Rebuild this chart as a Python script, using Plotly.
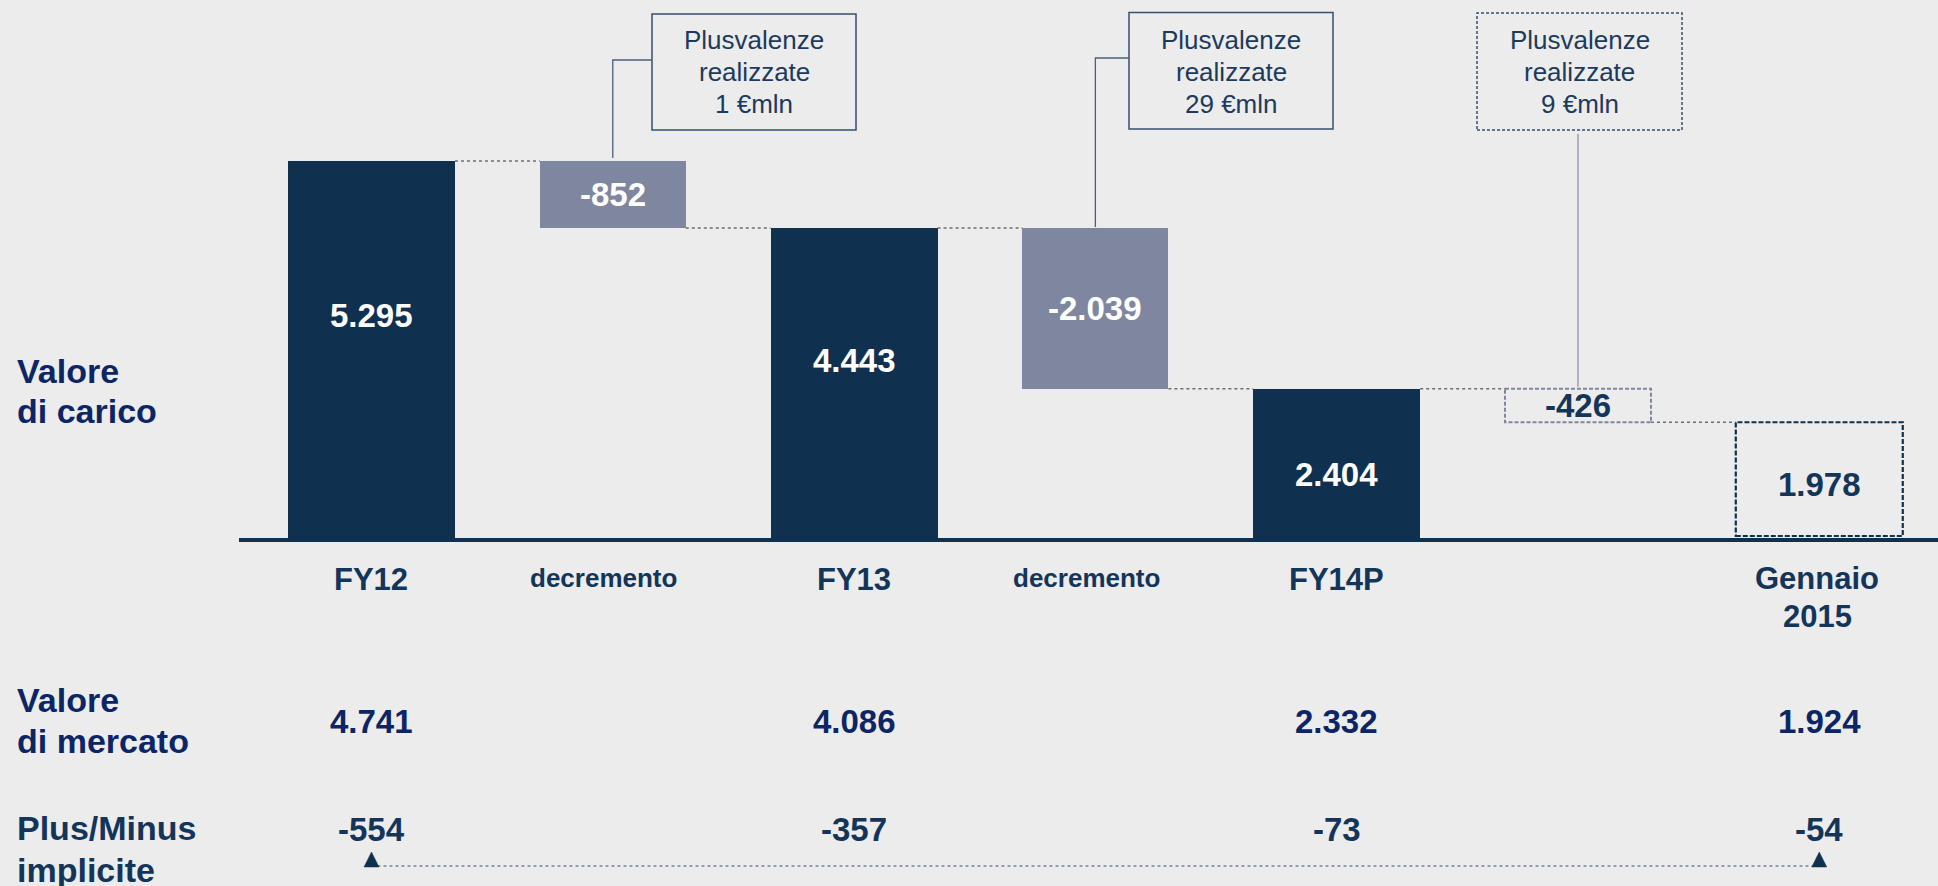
import plotly.graph_objects as go

# ---------------- data ----------------
steps = ["FY12", "decremento", "FY13", "decremento", "FY14P", "", "Gennaio 2015"]
total_names = ["FY12", "FY13", "FY14P", "Gennaio<br>2015"]
valore_carico = [5295, 4443, 2404, 1978]        # FY12, FY13, FY14P, Gennaio 2015
decrementi = [-852, -2039, -426]
plusvalenze_realizzate = [1, 29, 9]             # €mln
valore_mercato = [4741, 4086, 2332, 1924]
plus_minus_implicite = [-554, -357, -73, -54]

total_pos = [0, 2, 4, 6]
dec_pos = [1, 3, 5]


def it(v):
    return f"{v:,}".replace(",", ".")


# ---------------- style ----------------
W, H = 1938, 886
L, R, T, B = 239, 0, 0, 346
PW, PH = W - L - R, H - T - B
XR = [-0.549, 6.492]
YR = [483.6, 7338.0]
W_TOT, W_DEC = 0.692, 0.605

BG = "#ECECEC"
DARK = "#10304F"
GREY_BAR = "#7F87A0"
NAVY_TXT = "#14355A"
BLUE_TXT = "#0B2566"
BOX_LINE = "#35506E"
LEAD_DARK = "#4A6078"
LEAD_LIGHT = "#8A93AB"
DOT = "#6E6E6E"
FONT = "Liberation Sans, Arial, sans-serif"


def px_x(px):
    return (px - L) / PW


def px_y(py):
    return (T + PH - py) / PH


def dx(x):
    return (x - XR[0]) / (XR[1] - XR[0])


def dy(v):
    return (v - YR[0]) / (YR[1] - YR[0])


fig = go.Figure()

# solid totals (FY12, FY13, FY14P)
fig.add_trace(go.Bar(
    x=total_pos[:3], y=valore_carico[:3], width=W_TOT,
    marker=dict(color=DARK, line=dict(width=0)), hoverinfo="skip", showlegend=False))

# solid decrements
dec_bases = [valore_carico[0], valore_carico[1], valore_carico[2]]
fig.add_trace(go.Bar(
    x=dec_pos[:2], y=decrementi[:2], base=dec_bases[:2], width=W_DEC,
    marker=dict(color=GREY_BAR, line=dict(width=0)), hoverinfo="skip", showlegend=False))

shapes = []
# dashed estimated decrement (-426)
shapes.append(dict(type="rect", xref="x", yref="y",
                   x0=dec_pos[2] - W_DEC / 2, x1=dec_pos[2] + W_DEC / 2,
                   y0=dec_bases[2], y1=dec_bases[2] + decrementi[2],
                   line=dict(color=GREY_BAR, width=2, dash="4px,2px")))
# dashed Gennaio 2015 total
shapes.append(dict(type="rect", xref="x", yref="y",
                   x0=total_pos[3] - W_TOT / 2, x1=total_pos[3] + W_TOT / 2,
                   y0=YR[0] + 4 * (YR[1] - YR[0]) / PH, y1=valore_carico[3],
                   line=dict(color=DARK, width=2.2, dash="5px,2px")))

# connectors
items = []
ti, di = 0, 0
for k, s in enumerate(steps):
    if k % 2 == 0:
        items.append((total_pos[ti], W_TOT, valore_carico[ti]))
        ti += 1
    else:
        items.append((dec_pos[di], W_DEC, dec_bases[di] + decrementi[di]))
        di += 1
cx, cy = [], []
for a, b in zip(items[:-1], items[1:]):
    cx += [a[0] + a[1] / 2, b[0] - b[1] / 2, None]
    cy += [a[2], a[2], None]
fig.add_trace(go.Scatter(x=cx, y=cy, mode="lines",
                         line=dict(color=DOT, width=1.5, dash="dot"),
                         hoverinfo="skip", showlegend=False))

# axis baseline
shapes.append(dict(type="line", xref="paper", yref="paper", x0=0, x1=1, y0=0, y1=0,
                   line=dict(color=DARK, width=4)))

# callout boxes
boxes = [(652, 856, 14, 130, "solid"), (1129, 1333, 12.5, 129, "solid"),
         (1477, 1682, 13, 130, "3px,2px")]
for x0, x1, y0, y1, dash in boxes:
    shapes.append(dict(type="rect", xref="paper", yref="paper",
                       x0=px_x(x0), x1=px_x(x1), y0=px_y(y1), y1=px_y(y0),
                       line=dict(color=BOX_LINE, width=1.5, dash=dash)))

# leader lines
lead1_x = dx(dec_pos[0])
shapes.append(dict(type="path", xref="paper", yref="paper",
                   path=f"M {px_x(652)} {px_y(60)} L {lead1_x} {px_y(60)} L {lead1_x} {dy(dec_bases[0]) + 3 / PH}",
                   line=dict(color=LEAD_DARK, width=1.3)))
lead2_x = dx(dec_pos[1])
shapes.append(dict(type="path", xref="paper", yref="paper",
                   path=f"M {px_x(1129)} {px_y(58)} L {lead2_x} {px_y(58)} L {lead2_x} {dy(dec_bases[1]) + 1 / PH}",
                   line=dict(color=LEAD_DARK, width=1.3)))
lead3_x = dx(dec_pos[2])
shapes.append(dict(type="path", xref="paper", yref="paper",
                   path=f"M {lead3_x} {px_y(134)} L {lead3_x} {dy(dec_bases[2]) + 2 / PH}",
                   line=dict(color=LEAD_LIGHT, width=1.3)))

# bottom arrow row
ax0, ax1 = dx(total_pos[0]), dx(total_pos[3])
shapes.append(dict(type="line", xref="paper", yref="paper",
                   x0=ax0, x1=ax1, y0=px_y(866), y1=px_y(866),
                   line=dict(color="#7A8294", width=1.5, dash="dot")))
for axp in (ax0, ax1):
    hw = 7.5 / PW
    shapes.append(dict(type="path", xref="paper", yref="paper",
                       path=f"M {axp - hw} {px_y(867)} L {axp + hw} {px_y(867)} L {axp} {px_y(852)} Z",
                       fillcolor=DARK, line=dict(color=DARK, width=0.5)))

annotations = []


def line_text(text, x, baseline, size, color, bold=True, xref="paper", xanchor="center", xshift=0):
    annotations.append(dict(
        text=f"<b>{text}</b>" if bold else text,
        x=x, xref=xref, y=px_y(baseline - 0.3465 * size), yref="paper",
        xanchor=xanchor, yanchor="middle", showarrow=False, xshift=xshift,
        font=dict(family=FONT, size=size, color=color)))


# bar labels
total_label_frac = [0.63, 0.623, 0.545, 0.598]
for i in range(4):
    annotations.append(dict(
        text=f"<b>{it(valore_carico[i])}</b>", x=total_pos[i], y=valore_carico[i] * total_label_frac[i],
        xref="x", yref="y", showarrow=False, yanchor="middle",
        font=dict(family=FONT, size=33, color="white" if i < 3 else NAVY_TXT)))
for i in range(3):
    annotations.append(dict(
        text=f"<b>{it(decrementi[i])}</b>", x=dec_pos[i], y=dec_bases[i] + decrementi[i] / 2,
        xref="x", yref="y", showarrow=False, yanchor="middle",
        font=dict(family=FONT, size=33, color="white" if i < 2 else NAVY_TXT)))

# callout texts
box_centers = [754, 1231, 1579.5]
for c, v in zip(box_centers, plusvalenze_realizzate):
    for txt, bl in zip(["Plusvalenze", "realizzate", f"{v} €mln"], [49.5, 81, 113]):
        line_text(txt, px_x(c), bl, 26, "#1C3A5C", bold=False)

# category labels
for i, name in enumerate(total_names):
    parts = name.split("<br>")
    if len(parts) == 1:
        line_text(parts[0], total_pos[i], 590.7, 31, NAVY_TXT, xref="x")
    else:
        line_text(parts[0], total_pos[i], 589, 31, NAVY_TXT, xref="x", xshift=-2)
        line_text(parts[1], total_pos[i], 627, 31, NAVY_TXT, xref="x", xshift=-2)
for k, s in enumerate(steps):
    if s == "decremento":
        line_text(s, k, 586.7, 26, NAVY_TXT, xref="x", xshift=-9)

# rows of values
for i in range(4):
    line_text(it(valore_mercato[i]), total_pos[i], 733, 33, BLUE_TXT, xref="x")
    line_text(it(plus_minus_implicite[i]), total_pos[i], 841, 33, NAVY_TXT, xref="x")

# left row titles
for txt, bl, col in [("Valore", 383, BLUE_TXT), ("di carico", 423, BLUE_TXT),
                     ("Valore", 712, BLUE_TXT), ("di mercato", 753, BLUE_TXT),
                     ("Plus/Minus", 840, NAVY_TXT), ("implicite", 882, NAVY_TXT)]:
    line_text(txt, px_x(15), bl, 34, col, xanchor="left")

fig.update_layout(
    width=W, height=H, autosize=False,
    margin=dict(l=L, r=R, t=T, b=B, pad=0),
    paper_bgcolor=BG, plot_bgcolor=BG,
    barmode="overlay", bargap=0,
    showlegend=False,
    xaxis=dict(range=XR, visible=False, fixedrange=True),
    yaxis=dict(range=YR, visible=False, fixedrange=True),
    shapes=shapes, annotations=annotations,
    font=dict(family=FONT),
)

fig.write_html(
    "out.html",
    config={"displayModeBar": False},
    post_script="document.body.style.margin='0';document.body.style.overflow='hidden';document.body.style.background='#ECECEC';",
)
